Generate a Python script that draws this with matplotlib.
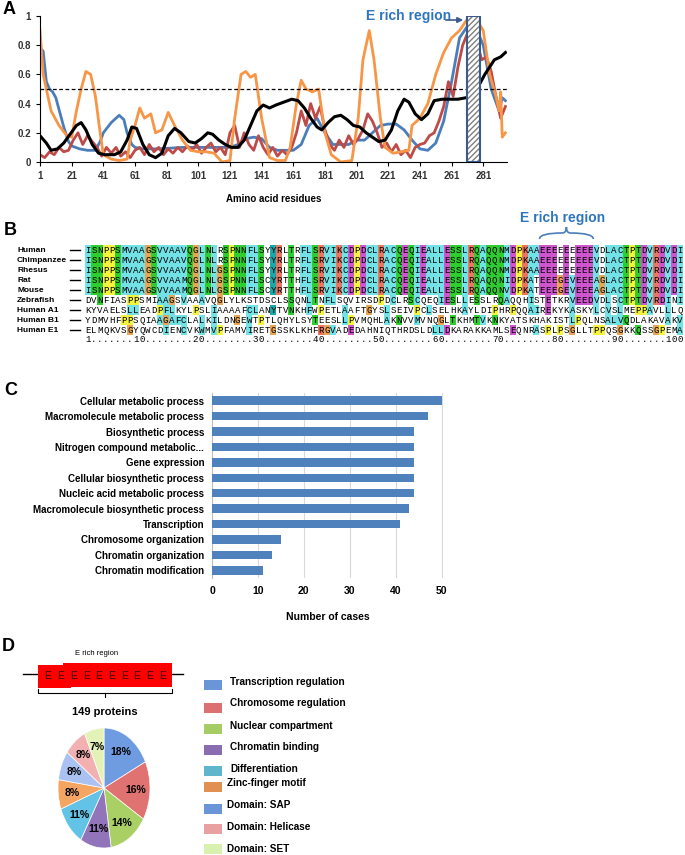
import matplotlib.pyplot as plt
from matplotlib.patches import Rectangle, PathPatch
from matplotlib.path import Path

plt.rcParams['font.family'] = ['Liberation Sans', 'DejaVu Sans']

# ---------------- data: panel A (disorder / charge profiles) ----------------
blue_res = [1, 3, 5, 7, 9, 11, 13, 16, 19, 21, 26, 31, 36, 39, 41, 46, 51, 54, 56, 59, 61, 66, 76, 91,
            106, 121, 126, 131, 136, 141, 146, 151, 161, 166, 171, 176, 181, 186, 196, 201, 206, 211,
            216, 221, 226, 231, 236, 241, 246, 251, 256, 261, 266, 271, 276, 281, 286, 291, 293, 295]
blue_val = [0.78, 0.76, 0.55, 0.5, 0.48, 0.44, 0.36, 0.24, 0.14, 0.11, 0.09, 0.08, 0.08, 0.14, 0.2, 0.27,
            0.32, 0.29, 0.2, 0.12, 0.1, 0.09, 0.09, 0.1, 0.1, 0.1, 0.12, 0.16, 0.17, 0.16, 0.1, 0.08, 0.08,
            0.12, 0.25, 0.3, 0.2, 0.12, 0.12, 0.15, 0.15, 0.2, 0.25, 0.26, 0.26, 0.22, 0.15, 0.09, 0.08,
            0.13, 0.28, 0.55, 0.85, 0.93, 0.93, 0.8, 0.5, 0.35, 0.44, 0.42]

red_res = list(range(1, 296, 3))
red_val = [0.05, 0.03, 0.07, 0.05, 0.1, 0.07, 0.08, 0.15, 0.2, 0.12, 0.18, 0.14, 0.1, 0.04, 0.1, 0.06,
           0.1, 0.04, 0.07, 0.03, 0.08, 0.1, 0.05, 0.12, 0.07, 0.1, 0.05, 0.09, 0.06, 0.1, 0.07, 0.11,
           0.08, 0.12, 0.06, 0.1, 0.13, 0.07, 0.1, 0.05, 0.2, 0.25, 0.1, 0.2, 0.12, 0.08, 0.18, 0.1,
           0.05, 0.1, 0.04, 0.08, 0.05, 0.1, 0.2, 0.35, 0.25, 0.4, 0.3, 0.38, 0.22, 0.12, 0.08, 0.15,
           0.1, 0.18, 0.12, 0.16, 0.22, 0.33, 0.28, 0.2, 0.1, 0.13, 0.07, 0.12, 0.05, 0.08, 0.03, 0.1,
           0.12, 0.13, 0.18, 0.2, 0.28, 0.38, 0.55, 0.45, 0.65, 0.8, 0.88, 0.75, 0.82, 0.7, 0.72, 0.62,
           0.45, 0.3, 0.38]

orange_res = [1, 3, 5, 8, 13, 18, 21, 24, 27, 30, 33, 36, 39, 41, 46, 51, 56, 58, 61, 64, 67, 71, 74, 78,
              82, 86, 91, 96, 101, 106, 111, 116, 121, 124, 128, 131, 134, 137, 141, 146, 151, 156, 159,
              163, 166, 169, 173, 177, 181, 185, 191, 198, 202, 205, 209, 212, 216, 219, 224, 229, 234,
              236, 241, 246, 251, 256, 261, 266, 271, 276, 281, 285, 289, 291, 292, 293, 295]
orange_val = [0.9, 0.6, 0.5, 0.35, 0.25, 0.18, 0.17, 0.35, 0.5, 0.62, 0.6, 0.45, 0.2, 0.05, 0.02, 0.01,
              0.02, 0.15, 0.25, 0.37, 0.3, 0.33, 0.2, 0.22, 0.34, 0.25, 0.15, 0.08, 0.07, 0.07, 0.06, 0.0,
              0.01, 0.3, 0.6, 0.62, 0.58, 0.6, 0.3, 0.03, 0.01, 0.01, 0.1, 0.4, 0.56, 0.5, 0.48, 0.5, 0.2,
              0.05, 0.0, 0.01, 0.3, 0.7, 0.9, 0.7, 0.3, 0.1, 0.06, 0.07, 0.08, 0.25, 0.3, 0.4, 0.6, 0.75,
              0.85, 0.9, 0.98, 0.99, 0.9, 0.6, 0.45, 0.35, 0.48, 0.17, 0.2]

black_res = [1, 5, 8, 12, 16, 20, 24, 27, 30, 34, 38, 42, 48, 52, 56, 59, 62, 66, 70, 74, 78, 82, 86, 90,
             95, 99, 103, 107, 110, 114, 118, 122, 126, 130, 134, 138, 142, 146, 150, 155, 160, 164, 168,
             172, 176, 179, 183, 187, 191, 195, 199, 203, 207, 211, 215, 219, 223, 227, 231, 234, 238,
             242, 246, 250, 255, 260, 265, 270, 274, 278, 282, 285, 288, 292, 295]
black_val = [0.18, 0.13, 0.08, 0.09, 0.13, 0.19, 0.25, 0.27, 0.22, 0.12, 0.06, 0.05, 0.05, 0.07, 0.15,
             0.24, 0.23, 0.12, 0.05, 0.03, 0.06, 0.18, 0.23, 0.2, 0.14, 0.13, 0.16, 0.2, 0.19, 0.15, 0.12,
             0.1, 0.1, 0.15, 0.25, 0.35, 0.39, 0.37, 0.39, 0.41, 0.43, 0.42, 0.37, 0.3, 0.24, 0.22, 0.27,
             0.31, 0.32, 0.29, 0.25, 0.24, 0.2, 0.17, 0.14, 0.15, 0.22, 0.35, 0.43, 0.41, 0.33, 0.29,
             0.33, 0.42, 0.43, 0.43, 0.43, 0.44, 0.46, 0.52, 0.6, 0.65, 0.7, 0.72, 0.75]

e_region = (271, 279)
xticks_a = list(range(1, 282, 20))

# ---------------- data: panel B (alignment) ----------------
species = ['Human', 'Chimpanzee', 'Rhesus', 'Rat', 'Mouse', 'Zebrafish', 'Human A1', 'Human B1', 'Human E1']
seqs = [
    'ISNPPSMVAAGSVVAAVQGLNLRSPNNFLSYYRLTRFLSRVIKCDPDCLRACQEQIEALLESSLRQAQQNMDPKAAEEEEEEEEEVDLACTPTDVRDVDI',
    'ISNPPSMVAAGSVVAAVQGLNLRSPNNFLSYYRLTRFLSRVIKCDPDCLRACQEQIEALLESSLRQAQQNMDPKAAEEEEEEEEEVDLACTPTDVRDVDI',
    'ISNPPSMVAAGSVVAAVQGLNLGSPNNFLSYYRLTRFLSRVIKCDPDCLRACQEQIEALLESSLRQAQQNMDPKAAEEEEEEEEEVDLACTPTDVRDVDI',
    'ISNPPSMVAAGSVVAAMQGLNLGSPNNFLSCYRTTHFLSRVIKCDPDCLRACQEQIEALLESSLRQAQQNIDPKATEEEGEVEEEAGLACTPTDVRDVDI',
    'ISNPPSMVAAGSVVAAMQGLNLGSPNNFLSCYRTTHFLSRVIKCDPDCLRACQEQIEALLESSLRQAQQNVDPKATEEEGEVEEEAGLACTPTDVRDVDI',
    'DVNFIASPPSMIAAGSVAAAVQGLYLKSTDSCLSSQNLTNFLSQVIRSDPDCLRSCQEQIESLLESSLRQAQQHISTETKRVEEDVDLSCTPTDVRDINI',
    'KYVAELSLLEADPFLKYLPSLIAAAAFCLANYTVNKHFWPETLAAFTGYSLSEIVPCLSELHKAYLDIPHRPQQAIREKYKASKYLCVSLMEPPAVLLLQ',
    'YDMVHFPPSQIAAGAFCLALKILDNGEWTPTLQHYLSYTEESLLPVMQHLAKNVVMVNQGLTKHMTVKNKYATSKHAKISTLPQLNSALVQDLAKAVAKV',
    'ELMQKVSGYQWCDIENCVKWMVPFAMVIRETGSSKLKHFRGVADEDAHNIQTHRDSLDLLDKARAKKAMLSEQNRASPLPSGLLTPPQSGKKQSSGPEMA',
]
e_cols = (76, 85)

aa_groups = {'AILMFWVC': '#72e2e6', 'STNQ': '#2fcd2f', 'DE': '#cf55cf', 'KR': '#e87762',
             'HY': '#1ca8a8', 'G': '#e9a555', 'P': '#f4f43c'}

# ---------------- data: panel C ----------------
go_terms = ['Cellular metabolic process', 'Macromolecule metabolic process', 'Biosynthetic process',
            'Nitrogen compound metabolic...', 'Gene expression', 'Cellular biosynthetic process',
            'Nucleic acid metabolic process', 'Macromolecule biosynthetic process', 'Transcription',
            'Chromosome organization', 'Chromatin organization', 'Chromatin modification']
go_counts = [50, 47, 44, 44, 44, 44, 44, 43, 41, 15, 13, 11]

# ---------------- data: panel D ----------------
pie_labels = ['Transcription regulation', 'Chromosome regulation', 'Nuclear compartment', 'Chromatin binding',
              'Differentiation', 'Zinc-finger motif', 'Domain: SAP', 'Domain: Helicase', 'Domain: SET']
pie_pct = [18, 16, 14, 11, 11, 8, 8, 8, 7]
pie_colors = ['#6f9be0', '#e07272', '#a9d064', '#9274bb', '#62c3e6', '#f5a562', '#a9c2f2', '#f2b0b0', '#e3f2b6']
legend_colors = ['#6a96d8', '#dd7070', '#a6cc66', '#8a6db0', '#5fb5cc', '#e09050', '#6a96d8', '#e8a0a0', '#d8f0b0']
n_boxes_e = 10

W, H = 685, 855
fig = plt.figure(figsize=(W / 100, H / 100), dpi=100)
bold_c = dict(fontweight='bold', fontsize=7.0)
bold_cx = dict(fontweight='bold', fontsize=7.5)
bold_d = dict(fontweight='bold', fontsize=7.2)


def fbox(x0, y0, x1, y1):
    # pixel box (top-left origin) -> figure fraction rect
    return [x0 / W, (H - y1) / H, (x1 - x0) / W, (y1 - y0) / H]


ov = fig.add_axes([0, 0, 1, 1])
ov.set_xlim(0, W)
ov.set_ylim(H, 0)
ov.axis('off')
ov.set_zorder(5)
ov.patch.set_visible(False)

for letter, (lx, ly) in zip('ABCD', [(3, 9), (4, 230), (4, 390), (2, 646)]):
    ov.text(lx, ly, letter, fontsize=13, fontweight='bold', va='center', ha='left')

# ---------------- panel A ----------------
axA = fig.add_axes(fbox(40, 16, 507, 162))
axA.patch.set_visible(False)
axA.plot(blue_res, blue_val, color='#4a7ebb', lw=2)
axA.plot(red_res, red_val, color='#be4b48', lw=2)
axA.plot(orange_res, orange_val, color='#f79646', lw=2)
axA.plot(black_res, black_val, color='black', lw=2.2)
axA.axhline(0.5, color='black', ls=(0, (3, 2)), lw=0.9)
axA.add_patch(Rectangle((e_region[0], 0), e_region[1] - e_region[0], 1, facecolor='white',
                        edgecolor='#808080', hatch='//////', lw=0, zorder=3))
axA.add_patch(Rectangle((e_region[0], 0), e_region[1] - e_region[0], 1, facecolor='none',
                        edgecolor='#3b5b8c', lw=1.5, zorder=4))
axA.set_xlim(1, 296)
axA.set_ylim(0, 1)
axA.set_xticks(xticks_a)
axA.set_yticks([0, 0.2, 0.4, 0.6, 0.8, 1])
axA.set_yticklabels(['0', '0.2', '0.4', '0.6', '0.8', '1'])
axA.tick_params(labelsize=7, length=3, width=0.8, colors='black')
for lab in axA.get_xticklabels() + axA.get_yticklabels():
    lab.set_fontweight('bold')
    lab.set_color('#333333')
for sp in ['top', 'right']:
    axA.spines[sp].set_visible(False)
axA.set_xlabel('Amino acid residues', fontsize=7, fontweight='bold', labelpad=9)
ov.text(409, 16, 'E rich region', color='#2e75c0', fontsize=10, fontweight='bold', ha='center', va='center')
ov.annotate('', xy=(466, 20), xytext=(443, 20),
            arrowprops=dict(arrowstyle='-|>', color='#3b5b8c', lw=1.2, mutation_scale=8))

# ---------------- panel B ----------------
cw = 598 / 100
axB = fig.add_axes(fbox(85, 245, 683, 345))
axB.set_xlim(0, 100)
axB.set_ylim(10, 0)
axB.axis('off')


def aa_color(col, ch):
    for grp, c in aa_groups.items():
        if ch in grp:
            if grp in ('G', 'P'):
                return c
            n = sum(1 for s in seqs if s[col] in grp)
            return c if n >= 5 else None
    return None


for r, (name, s) in enumerate(zip(species, seqs)):
    axB.text((17 - 85) / cw, r + 0.5, name, fontsize=6, fontweight='bold', ha='left', va='center',
             clip_on=False)
    axB.plot([(70 - 85) / cw, (80 - 85) / cw], [r + 0.5, r + 0.5], color='black', lw=1, clip_on=False)
    for c, ch in enumerate(s):
        col = aa_color(c, ch)
        if col:
            axB.add_patch(Rectangle((c, r), 1, 1, facecolor=col, edgecolor='none'))
        axB.text(c + 0.5, r + 0.55, ch, fontsize=6.6, family='Liberation Mono', ha='center', va='center')

ruler = ['.'] * 100
ruler[0] = '1'
for k in range(10, 101, 10):
    lab = str(k)
    for i, d in enumerate(lab):
        ruler[k - len(lab) + i] = d
for c, ch in enumerate(ruler):
    axB.text(c + 0.5, 9.45, ch, fontsize=6.6, family='Liberation Mono', ha='center', va='center')

bx0 = 85 + e_cols[0] * cw
bx1 = 85 + e_cols[1] * cw
bm = (bx0 + bx1) / 2
brace = Path([(bx0, 239), (bx0, 233), (bm - 4, 233), (bm - 4, 233), (bm, 233), (bm, 227),
              (bm, 233), (bm + 4, 233), (bm + 4, 233), (bx1, 233), (bx1, 239)],
             [Path.MOVETO, Path.CURVE3, Path.CURVE3, Path.LINETO, Path.CURVE3, Path.CURVE3,
              Path.CURVE3, Path.CURVE3, Path.LINETO, Path.CURVE3, Path.CURVE3])
ov.add_patch(PathPatch(brace, facecolor='none', edgecolor='#4a7ebb', lw=1.2))
ov.text(563, 218, 'E rich region', color='#2e75c0', fontsize=10, fontweight='bold', ha='center', va='center')

# ---------------- panel C ----------------
axC = fig.add_axes(fbox(212, 393, 443, 578))
ypos = list(range(len(go_terms)))
axC.barh(ypos, go_counts, height=0.55, color='#4f81bd', zorder=3)
axC.set_ylim(len(go_terms) - 0.5, -0.5)
axC.set_xlim(0, 50.3)
axC.set_xticks([0, 10, 20, 30, 40, 50])
axC.set_yticks(ypos)
axC.set_yticklabels(go_terms, **bold_c)
axC.set_xticklabels(['0', '10', '20', '30', '40', '50'], **bold_cx)
axC.grid(axis='x', color='#d9d9d9', lw=0.8, zorder=0)
for sp in ['top', 'right', 'bottom']:
    axC.spines[sp].set_visible(False)
axC.spines['left'].set_color('#bfbfbf')
axC.tick_params(axis='y', length=0, pad=5.5)
axC.tick_params(axis='x', length=0, pad=6)
axC.set_xlabel('Number of cases', labelpad=11, **bold_cx)

# ---------------- panel D ----------------
ov.plot([23, 183], [674, 674], color='black', lw=1, zorder=1)
ov.add_patch(Rectangle((38, 665), 33, 23, facecolor='#ff0000', edgecolor='none', zorder=2))
ov.add_patch(Rectangle((63, 663), 109, 24, facecolor='#ff0000', edgecolor='none', zorder=2))
for i in range(n_boxes_e):
    ov.text(48 + i * 12.7, 676, 'E', fontsize=7.5, color='#3a0000', ha='center', va='center', zorder=3)
ov.text(97, 653, 'E rich region', fontsize=5.5, ha='center', va='center')
ov.plot([38, 38, 172, 172], [689, 693, 693, 689], color='black', lw=0.8)
ov.plot([105, 105], [693, 697], color='black', lw=0.8)
ov.text(105, 712, '149 proteins', fontsize=8, fontweight='bold', ha='center', va='center')

axD = fig.add_axes(fbox(58, 728, 150, 848))
wedges, texts, autotexts = axD.pie(pie_pct, colors=pie_colors, startangle=90, counterclock=False,
                                   autopct='%d%%', pctdistance=0.7,
                                   wedgeprops=dict(edgecolor='white', linewidth=0.5),
                                   textprops=dict(fontsize=7.5, fontweight='bold'))
for t, p in zip(autotexts, pie_pct):
    t.set_text(f'{p}%')
axD.set_aspect('auto')
axD.set_xlim(-1, 1)
axD.set_ylim(-1, 1)

leg_text_y = [682, 703, 726, 747, 769, 783, 805, 827, 849]
leg_box_y = [685, 708, 729, 750, 771, 787, 809, 829, 849]
leg_text_x = [230, 230, 230, 230, 230, 227, 227, 227, 227]
for lab, c, ty, by, tx in zip(pie_labels, legend_colors, leg_text_y, leg_box_y, leg_text_x):
    ov.add_patch(Rectangle((204, by - 5), 18, 10, facecolor=c, edgecolor='none'))
    ov.text(tx, ty, lab, ha='left', va='center', **bold_d)

fig.savefig('out.png', dpi=100)
